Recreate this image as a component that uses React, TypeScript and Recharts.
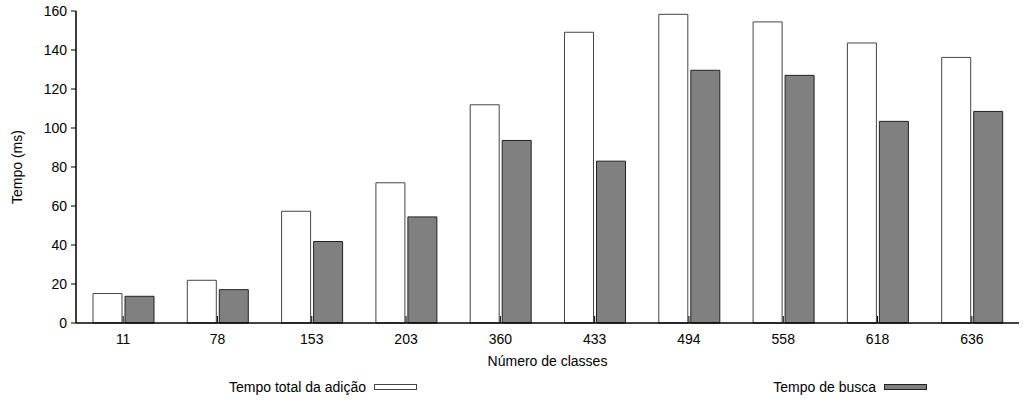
import { BarChart, Bar, XAxis, YAxis, Legend } from "recharts";

const classes = ["11", "78", "153", "203", "360", "433", "494", "558", "618", "636"];
const tempoTotal = [15.1, 21.9, 57.3, 71.9, 111.9, 149.1, 158.3, 154.4, 143.6, 136.2];
const tempoBusca = [13.7, 17.1, 41.8, 54.4, 93.6, 83.0, 129.6, 127.0, 103.4, 108.5];
const yTicks = [0, 20, 40, 60, 80, 100, 120, 140, 160];

const data = classes.map((c, i) => ({ classe: c, total: tempoTotal[i], busca: tempoBusca[i] }));

const font = "'Liberation Sans', Arial, sans-serif";
const fs = 14;

const barStyle: Record<string, { fill: string; stroke: string }> = {
  total: { fill: "#ffffff", stroke: "#444444" },
  busca: { fill: "#808080", stroke: "#222222" },
};

// right edge of each legend sample box
const legendBoxRight: Record<string, number> = { total: 417, busca: 927 };

const XTick = (props: any) => {
  const { x, y, payload } = props;
  return (
    <g>
      <line x1={x} x2={x} y1={y} y2={y - 7} stroke="#000" strokeWidth={1} />
      <text x={x} y={y + 21} textAnchor="middle" fontSize={fs} fontFamily={font} fill="#000">
        {payload.value}
      </text>
    </g>
  );
};

const renderLegend = (props: any) => {
  const items = props.payload || [];
  return (
    <div style={{ position: "relative", width: 1023, height: 20, fontFamily: font, fontSize: fs }}>
      {items.map((it: any) => {
        const s = barStyle[it.dataKey];
        return (
          <div
            key={it.dataKey}
            style={{
              position: "absolute",
              right: 1023 - legendBoxRight[it.dataKey],
              top: 0,
              height: 20,
              display: "flex",
              alignItems: "center",
              whiteSpace: "nowrap",
              color: "#000",
            }}
          >
            <span>{it.value}</span>
            <span
              style={{
                display: "inline-block",
                width: 41,
                height: 4,
                marginLeft: 8,
                background: s.fill,
                border: `1px solid ${s.stroke}`,
              }}
            />
          </div>
        );
      })}
    </div>
  );
};

function App() {
  return (
    <div style={{ position: "absolute", left: 0, top: 0, background: "#fff" }}>
      <BarChart
        width={1023}
        height={400}
        data={data}
        margin={{ top: 11, right: 4, left: 16, bottom: 31 }}
        barGap={3}
        barSize={29}
        style={{ fontFamily: font }}
      >
        <XAxis
          dataKey="classe"
          height={46}
          tickLine={false}
          tickSize={0}
          tickMargin={0}
          tick={<XTick />}
          axisLine={{ stroke: "#000", strokeWidth: 1.5 }}
          label={{ value: "Número de classes", position: "insideBottom", offset: 3, fontSize: fs, fill: "#000" }}
        />
        <XAxis xAxisId="top" dataKey="classe" orientation="top" height={0} tick={false} tickLine={false} axisLine={{ stroke: "#000", strokeWidth: 1.5 }} />
        <YAxis
          domain={[0, 160]}
          ticks={yTicks}
          width={60}
          tickSize={5}
          tickMargin={4}
          tick={{ fontSize: fs, fill: "#000" }}
          tickLine={{ stroke: "#000" }}
          axisLine={{ stroke: "#000", strokeWidth: 1.5 }}
          label={{ value: "Tempo (ms)", angle: -90, position: "insideLeft", offset: 1, fontSize: fs, fill: "#000", style: { textAnchor: "middle" } }}
        />
        <YAxis yAxisId="right" orientation="right" width={0} tick={false} tickLine={false} axisLine={{ stroke: "#000", strokeWidth: 1.5 }} />
        <Bar dataKey="total" name="Tempo total da adição" fill={barStyle.total.fill} stroke={barStyle.total.stroke} strokeWidth={1} isAnimationActive={false} />
        <Bar dataKey="busca" name="Tempo de busca" fill={barStyle.busca.fill} stroke={barStyle.busca.stroke} strokeWidth={1} isAnimationActive={false} />
        <Legend verticalAlign="middle" layout="horizontal" content={renderLegend} wrapperStyle={{ top: 377, left: 0, width: 1023, height: 20 }} />
      </BarChart>
    </div>
  );
}

export default App;
